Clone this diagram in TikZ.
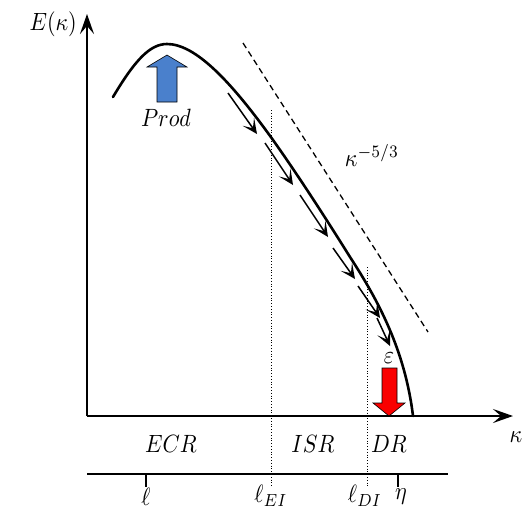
\documentclass[tikz,border=0pt]{standalone}
\usepackage{amsmath,amssymb}
\usepackage{tikz}
\usetikzlibrary{arrows.meta}
\usepackage{xcolor}
\definecolor{prodblue}{RGB}{74,128,204}
\definecolor{disred}{RGB}{250,0,0}
\newcommand{\biglabel}[1]{\scalebox{2.2}[2.5]{$#1$}}

\begin{document}
\begin{tikzpicture}[x=1pt, y=-1pt,
    lbl/.style={inner sep=1pt},
    axisline/.style={line width=2.4pt, -{Stealth[length=20pt, width=14pt, inset=8pt]}},
    cascade/.style={line width=1.5pt, -{Stealth[length=15pt, width=14pt, inset=8pt]}},
    divider/.style={line width=0.8pt, dotted}]
    \useasboundingbox (0,0) rectangle (529,512);

    % Axes
    \coordinate (origin) at (87,416);
    \coordinate (ytip) at (87,14);
    \coordinate (xtip) at (513,416);
    \draw[axisline] (origin) -- (ytip);
    \draw[axisline] (origin) -- (xtip);
    \node[lbl, anchor=east] (ylabel) at (78,24) {\biglabel{E(\kappa)}};
    \node[lbl] (xlabel) at (516,437) {\biglabel{\kappa}};

    % Spectrum
    \draw[line width=2.6pt, line cap=round] (113,97) .. controls (135,60) and (150,44) .. (167,44)
        .. controls (195,44) and (230,80) .. (273,140)
        .. controls (300,178) and (330,225) .. (350,257)
        .. controls (378,300) and (405,350) .. (413,416);

    % Slope line
    \coordinate (slopeA) at (243,43);
    \coordinate (slopeB) at (428,332);
    \draw[line width=1.3pt, dashed, dash pattern=on 6pt off 4pt] (slopeA) -- (slopeB);
    \node[lbl] (slope) at (372,155) {\biglabel{\kappa^{-5/3}}};

    % Cascade
    \foreach \xa/\ya/\xb/\yb in {228/93/257/134, 265/143/293/185, 300/195/328/237,
                                 333/248/355/279, 358/286/380/318, 377/318/390/346} {
        \draw[cascade] (\xa,\ya) -- (\xb,\yb);
    }

    % Production
    \draw[fill=prodblue, line width=0.6pt] (157,102) -- (157,67) -- (147,67) -- (167,55)
        -- (187,67) -- (177,67) -- (177,102) -- cycle;
    \node[lbl] (prod) at (166,118) {\biglabel{Prod}};

    % Dissipation
    \draw[fill=disred, line width=0.6pt] (382,368) -- (397,368) -- (397,403) -- (405,403)
        -- (389,416) -- (373,403) -- (382,403) -- cycle;
    \node[lbl] (eps) at (389,358) {\biglabel{\varepsilon}};

    % Ranges
    \node[lbl] (ecr) at (171,444) {\biglabel{ECR}};
    \node[lbl] (isr) at (313,444) {\biglabel{ISR}};
    \node[lbl] (dr) at (389,444) {\biglabel{DR}};

    % Length scales
    \coordinate (barL) at (87,474);
    \coordinate (barR) at (448,474);
    \draw[line width=2.2pt] (barL) -- (barR);
    \draw[line width=2.2pt] (146,474) -- (146,487);
    \draw[line width=2.2pt] (398,474) -- (398,487);
    \draw[divider] (271,110) -- (271,487);
    \draw[divider] (367,267) -- (367,487);
    \node[lbl] (ell) at (146,497) {\biglabel{\ell}};
    \node[lbl] (ellEI) at (271,496) {\biglabel{\ell_{EI}}};
    \node[lbl] (ellDI) at (365,496) {\biglabel{\ell_{DI}}};
    \node[lbl] (eta) at (401,497) {\biglabel{\eta}};
\end{tikzpicture}
\end{document}
